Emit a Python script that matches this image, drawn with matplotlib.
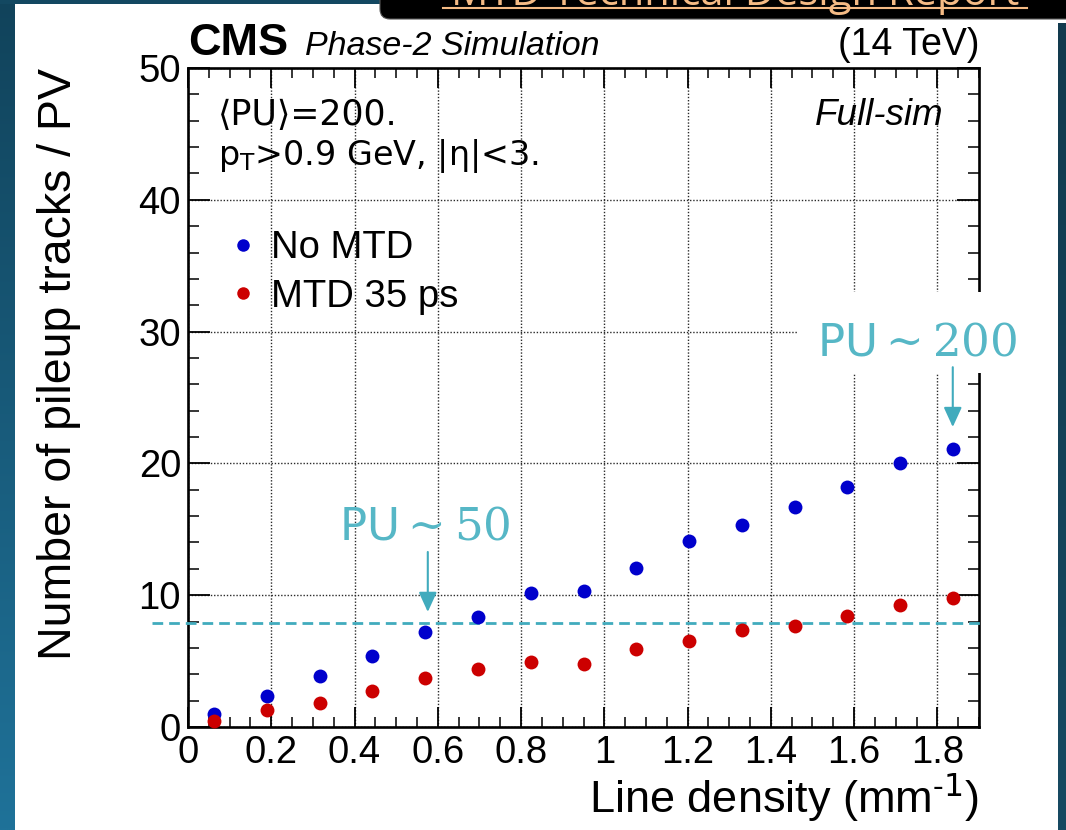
import numpy as np
import matplotlib
matplotlib.use("Agg")
import matplotlib.pyplot as plt
from matplotlib.patches import Rectangle, FancyBboxPatch, FancyArrowPatch, ArrowStyle
from matplotlib.lines import Line2D
from matplotlib.transforms import IdentityTransform
from matplotlib.ticker import MultipleLocator, FixedLocator, FixedFormatter

# ---------------- data ----------------
line_density = [0.063, 0.19, 0.317, 0.443, 0.57, 0.697, 0.823, 0.95,
                1.077, 1.203, 1.33, 1.457, 1.583, 1.71, 1.837]
no_mtd = [0.98, 2.38, 3.9, 5.36, 7.23, 8.37, 10.19, 10.34,
          12.1, 14.14, 15.35, 16.67, 18.21, 20.0, 21.12]
mtd_35ps = [0.48, 1.28, 1.85, 2.75, 3.72, 4.42, 4.93, 4.76,
            5.9, 6.55, 7.35, 7.66, 8.42, 9.28, 9.79]
series_labels = ["No MTD", "MTD 35 ps"]

xticks = [0, 0.2, 0.4, 0.6, 0.8, 1.0, 1.2, 1.4, 1.6, 1.8]
xticklabels = ["0", "0.2", "0.4", "0.6", "0.8", "1", "1.2", "1.4", "1.6", "1.8"]
yticks = [0, 10, 20, 30, 40, 50]
yticklabels = ["0", "10", "20", "30", "40", "50"]

pu50_level = 7.92
pu50_arrow = (0.576, 13.28, 8.73)     # x, y start, y tip
pu200_arrow = (1.837, 27.3, 22.76)
pu50_label = (0.569, 14.26)
pu200_label = (1.752, 28.2)

# ---------------- figure ----------------
plt.rcParams["font.family"] = ["Liberation Sans", "DejaVu Sans"]
plt.rcParams["mathtext.fontset"] = "dejavuserif"
plt.rcParams["lines.scale_dashes"] = False

W, H = 1066, 830
fig = plt.figure(figsize=(W / 100, H / 100), dpi=100, facecolor="white")


def fx(x):
    return x / W


def fy(y):
    return 1 - y / H


# background decorations (slide frame)
def gradient_strip(x0, x1, y0, y1, ctop, cbot):
    a = fig.add_axes([fx(x0), fy(y1), fx(x1 - x0), (y1 - y0) / H], zorder=-5)
    c1 = np.array(matplotlib.colors.to_rgb(ctop))
    c2 = np.array(matplotlib.colors.to_rgb(cbot))
    t = np.linspace(0, 1, 256)[:, None]
    img = (c1[None, :] * (1 - t) + c2[None, :] * t)[:, None, :]
    a.imshow(img, aspect="auto", extent=[0, 1, 0, 1], interpolation="bilinear")
    a.set_axis_off()


gradient_strip(0, 15, 0, H, "#11435b", "#1f7299")
gradient_strip(1058, W, 23, H, "#123a4e", "#174a62")
fig.add_artist(Rectangle((0, H - 4), 382, 4, transform=IdentityTransform(),
                         facecolor="#134861", edgecolor="none", zorder=1))
fig.add_artist(FancyBboxPatch((380, H - 19), 760, 60,
                              boxstyle="round,pad=0,rounding_size=10",
                              transform=IdentityTransform(),
                              facecolor="black", edgecolor="#555555", lw=0.8, zorder=1))
fig.text(fx(735), fy(5), "MTD Technical Design Report", color="#f5bb85",
         fontsize=30, ha="center", va="baseline", family="Open Sans", zorder=2)
fig.add_artist(Line2D([443, 1027], [H - 8, H - 8], transform=IdentityTransform(),
                      color="#f5bb85", lw=1.5, zorder=2))

# ---------------- main axes ----------------
ax = fig.add_axes([fx(188), fy(727), fx(979 - 188), (727 - 68) / H])
ax.set_xlim(0, 1.9)
ax.set_ylim(0, 50)

ax.xaxis.set_major_locator(FixedLocator(xticks))
ax.xaxis.set_major_formatter(FixedFormatter(xticklabels))
ax.xaxis.set_minor_locator(MultipleLocator(0.05))
ax.yaxis.set_major_locator(FixedLocator(yticks))
ax.yaxis.set_major_formatter(FixedFormatter(yticklabels))
ax.yaxis.set_minor_locator(MultipleLocator(2))

ax.tick_params(which="both", direction="in", top=True, right=True, colors="black",
               labelsize=27.5)
ax.tick_params(axis="x", which="major", length=14.5, width=1.3, pad=6)
ax.tick_params(axis="x", which="minor", length=7, width=1.1)
ax.tick_params(axis="y", which="major", length=16, width=1.3, pad=5)
ax.tick_params(axis="y", which="minor", length=8, width=1.1)
for s in ax.spines.values():
    s.set_linewidth(1.9)

ax.grid(True, which="major", linestyle=(0, (1.0, 1.3)), linewidth=1.0, color="#2a2a2a")
ax.set_axisbelow(True)

h1, = ax.plot(line_density, no_mtd, "o", ms=10, color="#0000cc", mec="none",
              label=series_labels[0], zorder=5, clip_on=False)
h2, = ax.plot(line_density, mtd_35ps, "o", ms=10, color="#cc0000", mec="none",
              label=series_labels[1], zorder=6, clip_on=False)

ax.plot([-0.087, 1.915], [pu50_level, pu50_level], color="#41abbd", lw=2.0,
        dashes=(7.7, 4.3), clip_on=False, zorder=4)

ax.legend(handles=[h1, h2], loc="upper left", bbox_to_anchor=(fx(232), fy(230)),
          bbox_transform=fig.transFigure, frameon=False, fontsize=27.5,
          handlelength=0.6, handletextpad=0.42, labelspacing=0.33,
          borderpad=0, borderaxespad=0, numpoints=1, markerscale=0.9)

# ---------------- texts ----------------
fig.text(fx(188), fy(55), "CMS", fontsize=32.5, fontweight="bold", ha="left", va="baseline")
fig.text(fx(305), fy(55), "Phase-2 Simulation", fontsize=24.5, fontstyle="italic",
         ha="left", va="baseline")
fig.text(fx(979), fy(55), "(14 TeV)", fontsize=27, ha="right", va="baseline")

fig.text(fx(218), fy(125), "\u27e8PU\u27e9=200.", fontsize=25, ha="left", va="baseline",
         family=["DejaVu Sans"])
fig.text(fx(218), fy(165), r"p$_{\mathsf{T}}$>0.9 GeV, |η|<3.", fontsize=24,
         ha="left", va="baseline", family=["DejaVu Sans"])
fig.text(fx(944), fy(125), "Full-sim", fontsize=26.5, fontstyle="italic",
         ha="right", va="baseline")

fig.text(fx(59), fy(68), "Number of pileup tracks / PV", fontsize=33.5, rotation=90,
         ha="center", va="top")
fig.text(fx(979), fy(813), r"Line density (mm$^{\mathsf{\text{-}1}}$)", fontsize=32.5,
         ha="right", va="baseline")

# white box behind "PU ~ 200"
fig.add_artist(Rectangle((797, H - 373), 259, 81, transform=IdentityTransform(),
                         facecolor="white", edgecolor="none", zorder=1))

teal_txt = "#56b7c6"
teal_arr = "#41abbd"
fig.add_artist(matplotlib.text.Text(pu200_label[0], pu200_label[1],
                                    r"$\mathsf{PU}\sim200$", transform=ax.transData,
                                    fontsize=32.5, color=teal_txt, ha="center",
                                    va="baseline", zorder=2))
fig.add_artist(matplotlib.text.Text(pu50_label[0], pu50_label[1],
                                    r"$\mathsf{PU}\sim50$", transform=ax.transData,
                                    fontsize=32.5, color=teal_txt, ha="center",
                                    va="baseline", zorder=2))

for (ax_x, y0, y1) in (pu50_arrow, pu200_arrow):
    arr = FancyArrowPatch((ax_x, y0), (ax_x, y1), transform=ax.transData,
                          arrowstyle=ArrowStyle("-|>", head_length=12, head_width=5.5),
                          mutation_scale=1, color=teal_arr, lw=1.5,
                          shrinkA=0, shrinkB=0, zorder=3)
    fig.add_artist(arr)

fig.savefig("out.png", dpi=100, facecolor="white")
